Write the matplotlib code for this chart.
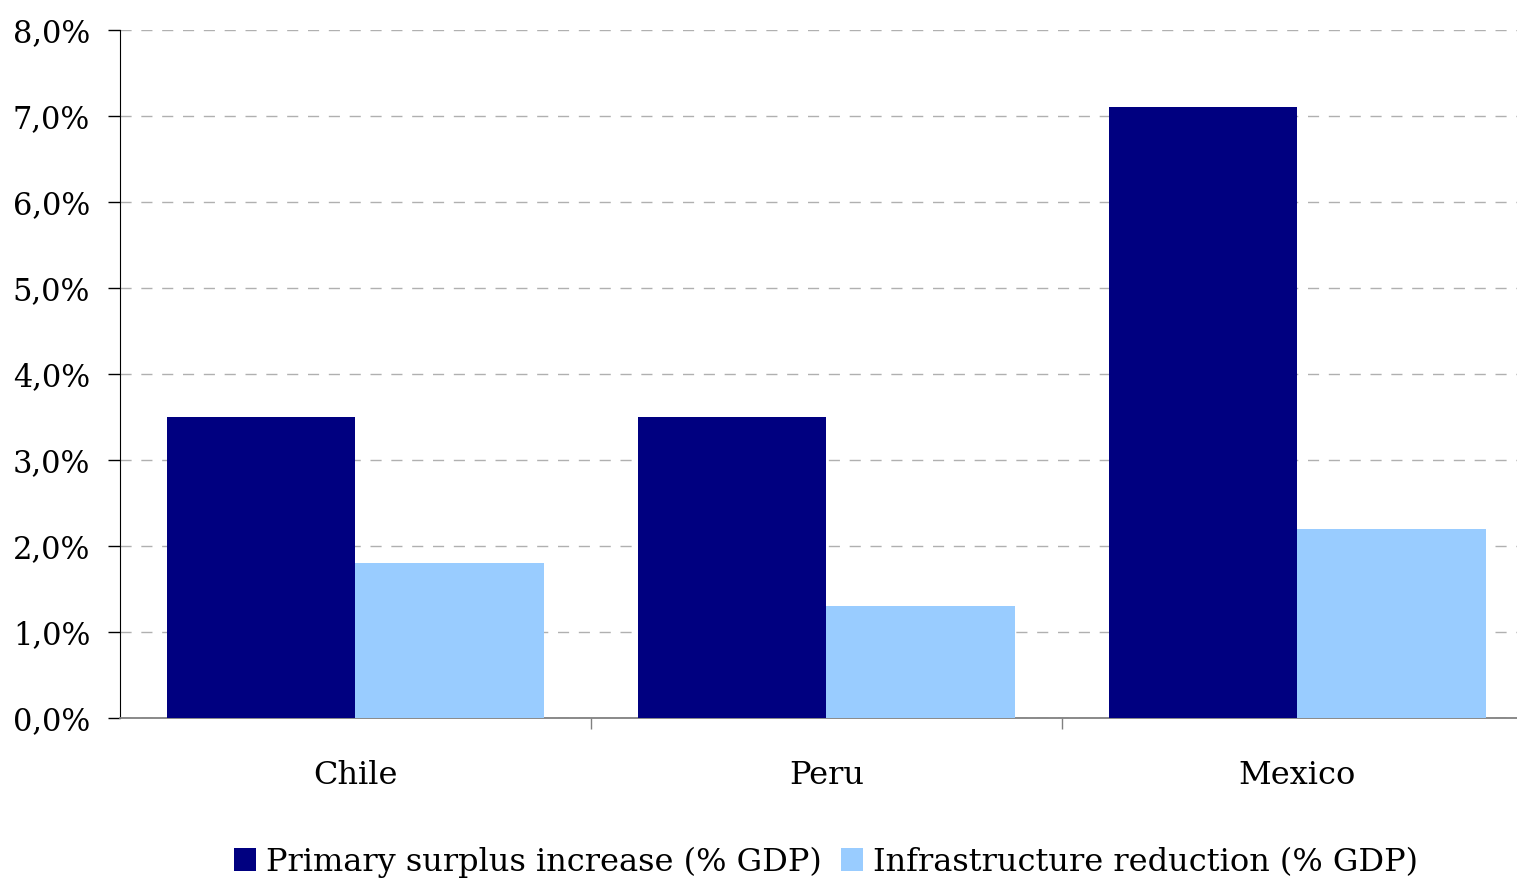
import matplotlib.pyplot as plt
import numpy as np

# Données
countries = ["Chile", "Peru", "Mexico"]
primary_surplus = [3.5, 3.5, 7.1]
infra_reduction = [1.8, 1.3, 2.2]
series_labels = ["Primary surplus increase (% GDP)", "Infrastructure reduction (% GDP)"]
y_ticks = [0, 1, 2, 3, 4, 5, 6, 7, 8]

plt.rcParams['font.family'] = ['DejaVu Serif']

fig = plt.figure(figsize=(15.17, 8.82), dpi=100)
ax = fig.add_axes([120/1517, 1 - 718/882, 1413/1517, 688/882])

x = np.arange(len(countries))
width = 0.4
ax.bar(x - width/2, primary_surplus, width, color='#000080', label=series_labels[0], zorder=3)
ax.bar(x + width/2, infra_reduction, width, color='#99CCFF', label=series_labels[1], zorder=3)

ax.set_xlim(-0.5, 2.5)
ax.set_ylim(0, 8)

# Axe Y en pourcentage, virgule décimale
ax.set_yticks(y_ticks)
ax.set_yticklabels([f"{v:.1f}%".replace(".", ",") for v in y_ticks])
ax.tick_params(axis='y', length=8.5, width=1, color='black', pad=13, labelsize=22)

# Catégories centrées, graduations entre les groupes
ax.set_xticks(x)
ax.set_xticklabels(countries)
ax.set_xticks([0.5, 1.5], minor=True)
ax.tick_params(axis='x', which='major', length=0, pad=30, labelsize=23)
ax.tick_params(axis='x', which='minor', length=8, width=1, color='#808080')

ax.yaxis.grid(True, linestyle=(0, (8, 7)), color='#b0b0b0', linewidth=1, zorder=0)
ax.set_axisbelow(True)

for side in ['top', 'right']:
    ax.spines[side].set_visible(False)
ax.spines['left'].set_color('black')
ax.spines['bottom'].set_color('#808080')
ax.spines['bottom'].set_linewidth(1.3)

fig.legend(loc='center', bbox_to_anchor=(826/1517, 1 - 862/882), ncol=2,
           frameon=False, fontsize=23, handlelength=0.7, handleheight=0.7,
           handletextpad=0.3, columnspacing=0.6, borderpad=0)

plt.savefig("out.png", dpi=100)
